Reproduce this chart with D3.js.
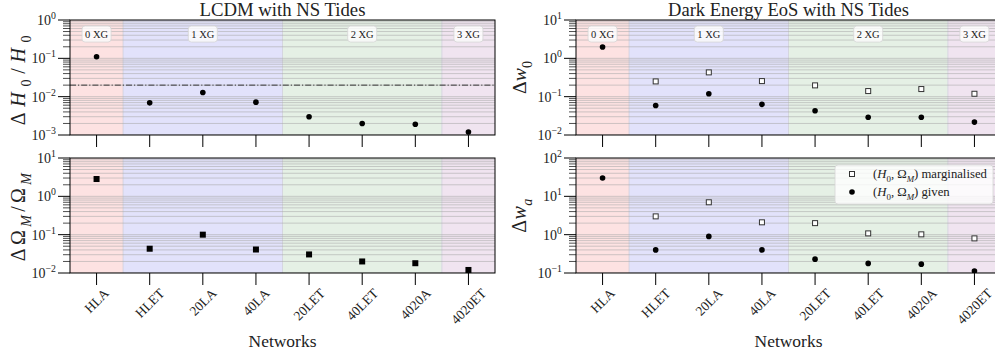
<!DOCTYPE html>
<html><head><meta charset="utf-8">
<script src="https://cdn.jsdelivr.net/npm/d3@7"></script>
<style>body{margin:0;background:#fff}svg{display:block}svg text,svg tspan{font-family:"Liberation Serif","DejaVu Serif",serif}</style>
</head><body><svg id="c" width="995" height="360" font-family="Liberation Serif"></svg>
<script>
const categories = ["HLA","HLET","20LA","40LA","20LET","40LET","4020A","4020ET"];
const groupLabels = ["0 XG","1 XG","2 XG","3 XG"];
const groupSizes = [1,3,3,1];
const groupColors = ["#fde2e2","#e2e2fb","#e5f0e5","#f0e4f0"];
const dH0 = [0.11, 0.0069, 0.0129, 0.0072, 0.0030, 0.0020, 0.0019, 0.0012];
const h0Threshold = 0.02;
const dOm = [2.83, 0.043, 0.100, 0.041, 0.0305, 0.020, 0.018, 0.012];
const dw0Given = [1.97, 0.059, 0.119, 0.063, 0.043, 0.029, 0.029, 0.0217];
const dw0Marg = [null, 0.25, 0.43, 0.255, 0.197, 0.14, 0.158, 0.119];
const dwaGiven = [30, 0.40, 0.90, 0.40, 0.23, 0.178, 0.17, 0.112];
const dwaMarg = [null, 3.0, 7.0, 2.1, 2.0, 1.08, 1.02, 0.8];
const titles = ["LCDM with NS Tides","Dark Energy EoS with NS Tides"];
const legendLabels = ["marginalised","given"];

const svg = d3.select("#c");
const W = 425, H = 115;
const colX = [70, 576], rowY = [20, 158];
const TXT = "#222";

function mathText(sel, parts){
  let sub = false;
  parts.forEach(p=>{
    const t = sel.append("tspan").text(p.t);
    if(p.i) t.attr("font-style","italic");
    if(p.sub){ t.attr("font-size","0.7em"); if(!sub){ t.attr("dy","0.4em"); sub=true; } }
    else if(sub){ t.attr("dy","-0.28em"); sub=false; }
  });
}
function supLabel(sel, exp){
  sel.append("tspan").text("10");
  sel.append("tspan").text(exp<0?"\u2212"+(-exp):String(exp)).attr("font-size","0.7em").attr("dy","-0.6em");
}
function fit(sel, target, base){
  sel.attr("font-size", base);
  const L = sel.node().getComputedTextLength();
  if(L>0) sel.attr("font-size", base*target/L);
  return sel;
}
function spread(sel, target, size){
  sel.attr("font-size", size);
  const L = sel.node().getComputedTextLength();
  const n = sel.node().getNumberOfChars();
  if(L < target && n>1) sel.attr("letter-spacing", (target-L)/(n-1));
  else if(L>target) fit(sel,target,size);
  return sel;
}

function panel(col,row,domain,opts){
  const x0 = colX[col], y0 = rowY[row];
  const g = svg.append("g").attr("transform",`translate(${x0},${y0})`);
  const clipId = `clip${col}${row}`;
  g.append("clipPath").attr("id",clipId).append("rect").attr("width",W).attr("height",H);
  const x = d3.scaleLinear().domain([-0.5, categories.length-0.5]).range([0,W]);
  const y = d3.scaleLog().domain(domain).range([H,0]);
  const inner = g.append("g").attr("clip-path",`url(#${clipId})`);
  let start = -0.5;
  groupSizes.forEach((n,k)=>{
    inner.append("rect").attr("x",x(start)).attr("y",0).attr("width",x(start+n)-x(start)).attr("height",H).attr("fill",groupColors[k]);
    if(k>0) inner.append("line").attr("x1",x(start)).attr("x2",x(start)).attr("y1",0).attr("y2",H).attr("stroke","#cfcfdc").attr("stroke-width",0.8);
    start += n;
  });
  const ticks = [];
  const lo = Math.round(Math.log10(domain[0])), hi = Math.round(Math.log10(domain[1]));
  for(let e=lo;e<=hi;e++){ for(let m=1;m<=9;m++){ const v=m*Math.pow(10,e); if(v>=domain[0]*0.999 && v<=domain[1]*1.001) ticks.push({v,major:m===1,e}); } }
  inner.selectAll("line.grid").data(ticks).enter().append("line").attr("class","grid")
    .attr("x1",0).attr("x2",W).attr("y1",d=>y(d.v)).attr("y2",d=>y(d.v))
    .attr("stroke","#a8a8a8").attr("stroke-opacity",0.7).attr("stroke-width",0.8);
  if(opts.threshold){
    inner.append("line").attr("x1",0).attr("x2",W).attr("y1",y(opts.threshold)).attr("y2",y(opts.threshold))
      .attr("stroke","#222").attr("stroke-width",0.9).attr("stroke-dasharray","6,2,1.2,2");
  }
  opts.series.forEach(s=>{
    const pts = s.values.map((v,i)=>({v,i})).filter(d=>d.v!=null);
    if(s.shape==="circle"){
      inner.selectAll(null).data(pts).enter().append("circle").attr("cx",d=>x(d.i)).attr("cy",d=>y(d.v)).attr("r",2.8).attr("fill","#000");
    } else if(s.shape==="square"){
      inner.selectAll(null).data(pts).enter().append("rect").attr("x",d=>x(d.i)-3).attr("y",d=>y(d.v)-3).attr("width",6).attr("height",6).attr("fill","#000");
    } else {
      inner.selectAll(null).data(pts).enter().append("rect").attr("x",d=>x(d.i)-2.5).attr("y",d=>y(d.v)-2.5).attr("width",5).attr("height",5).attr("fill","#fff").attr("stroke","#333").attr("stroke-width",1);
    }
  });
  g.append("rect").attr("width",W).attr("height",H).attr("fill","none").attr("stroke","#000").attr("stroke-width",1);
  g.selectAll("line.yt").data(ticks).enter().append("line")
    .attr("x1",d=>d.major?-12:-7).attr("x2",0).attr("y1",d=>y(d.v)).attr("y2",d=>y(d.v)).attr("stroke","#000").attr("stroke-width",d=>d.major?1:0.7);
  ticks.filter(d=>d.major).forEach(d=>{
    const t = g.append("text").attr("x",-14).attr("y",y(d.v)+5).attr("text-anchor","end").attr("font-size",14).attr("fill",TXT);
    supLabel(t,d.e);
  });
  categories.forEach((c,i)=>{
    g.append("line").attr("x1",x(i)).attr("x2",x(i)).attr("y1",H).attr("y2",H+12).attr("stroke","#000").attr("stroke-width",1);
    if(row===1){
      const fs = 13.5;
      const t = g.append("text").attr("text-anchor","middle").attr("dy","0.35em").attr("font-size",fs).attr("fill",TXT).text(c);
      const L = t.node().getComputedTextLength();
      const cy = H + 14 + (L+fs*0.8)*0.354;
      t.attr("transform",`translate(${x(i)},${cy}) rotate(-45)`);
    }
  });
  if(row===0){
    let s0 = -0.5;
    groupSizes.forEach((n,k)=>{
      const cx = x(s0 + n/2);
      const lg = g.append("g");
      const t = lg.append("text").attr("x",cx).attr("y",14).attr("dy","0.35em").attr("text-anchor","middle").attr("fill",TXT).text(groupLabels[k]);
      fit(t, 23, 11);
      lg.insert("rect","text").attr("x",cx-14.5).attr("y",6).attr("width",29).attr("height",16).attr("rx",3)
        .attr("fill","#fff").attr("fill-opacity",0.8).attr("stroke","#d6d6d6").attr("stroke-width",0.8);
      s0 += n;
    });
    const tt = svg.append("text").attr("x",x0+W/2).attr("y",y0-4).attr("text-anchor","middle").attr("fill",TXT).text(titles[col]);
    fit(tt, col===0?166:241, 18);
  } else {
    const nt = svg.append("text").attr("x",x0+W/2).attr("y",347).attr("text-anchor","middle").attr("fill",TXT).text("Networks");
    fit(nt, 68, 18);
  }
  const yl = svg.append("text").attr("transform",`translate(${opts.ylx},${y0+H/2}) rotate(-90)`).attr("text-anchor","middle").attr("fill",TXT);
  mathText(yl, opts.ylabel);
  spread(yl, opts.ylen, 20);
  return {g,x,y};
}

panel(0,0,[1e-3,1e0],{threshold:h0Threshold, series:[{values:dH0,shape:"circle"}], ylx:25, ylen:90,
  ylabel:[{t:"\u0394"},{t:"H",i:true},{t:"0",sub:true},{t:"/"},{t:"H",i:true},{t:"0",sub:true}]});
panel(0,1,[1e-2,1e1],{series:[{values:dOm,shape:"square"}], ylx:25, ylen:88,
  ylabel:[{t:"\u0394\u03A9"},{t:"M",i:true,sub:true},{t:"/\u03A9"},{t:"M",i:true,sub:true}]});
panel(1,0,[1e-2,1e1],{series:[{values:dw0Marg,shape:"open"},{values:dw0Given,shape:"circle"}], ylx:526, ylen:33,
  ylabel:[{t:"\u0394"},{t:"w",i:true},{t:"0",sub:true}]});
panel(1,1,[1e-1,1e2],{series:[{values:dwaMarg,shape:"open"},{values:dwaGiven,shape:"circle"}], ylx:526, ylen:34,
  ylabel:[{t:"\u0394"},{t:"w",i:true},{t:"a",i:true,sub:true}]});

const lg = svg.append("g").attr("transform","translate(835,165)");
lg.append("rect").attr("width",158).attr("height",39).attr("rx",3).attr("fill","#fff").attr("fill-opacity",0.8).attr("stroke","#d6d6d6").attr("stroke-width",0.8);
lg.append("rect").attr("x",14.5).attr("y",6.5).attr("width",5).attr("height",5).attr("fill","#fff").attr("stroke","#333");
lg.append("circle").attr("cx",17).attr("cy",27).attr("r",2.8).attr("fill","#000");
const legT = legendLabels.map((lab,k)=>{
  const t = lg.append("text").attr("x",38).attr("y",13+k*18).attr("fill",TXT);
  mathText(t,[{t:"("},{t:"H",i:true},{t:"0",sub:true},{t:", \u03A9"},{t:"M",i:true,sub:true},{t:") "+lab}]);
  return t;
});
fit(legT[0], 114, 13);
legT[1].attr("font-size", legT[0].attr("font-size"));
</script></body></html>
